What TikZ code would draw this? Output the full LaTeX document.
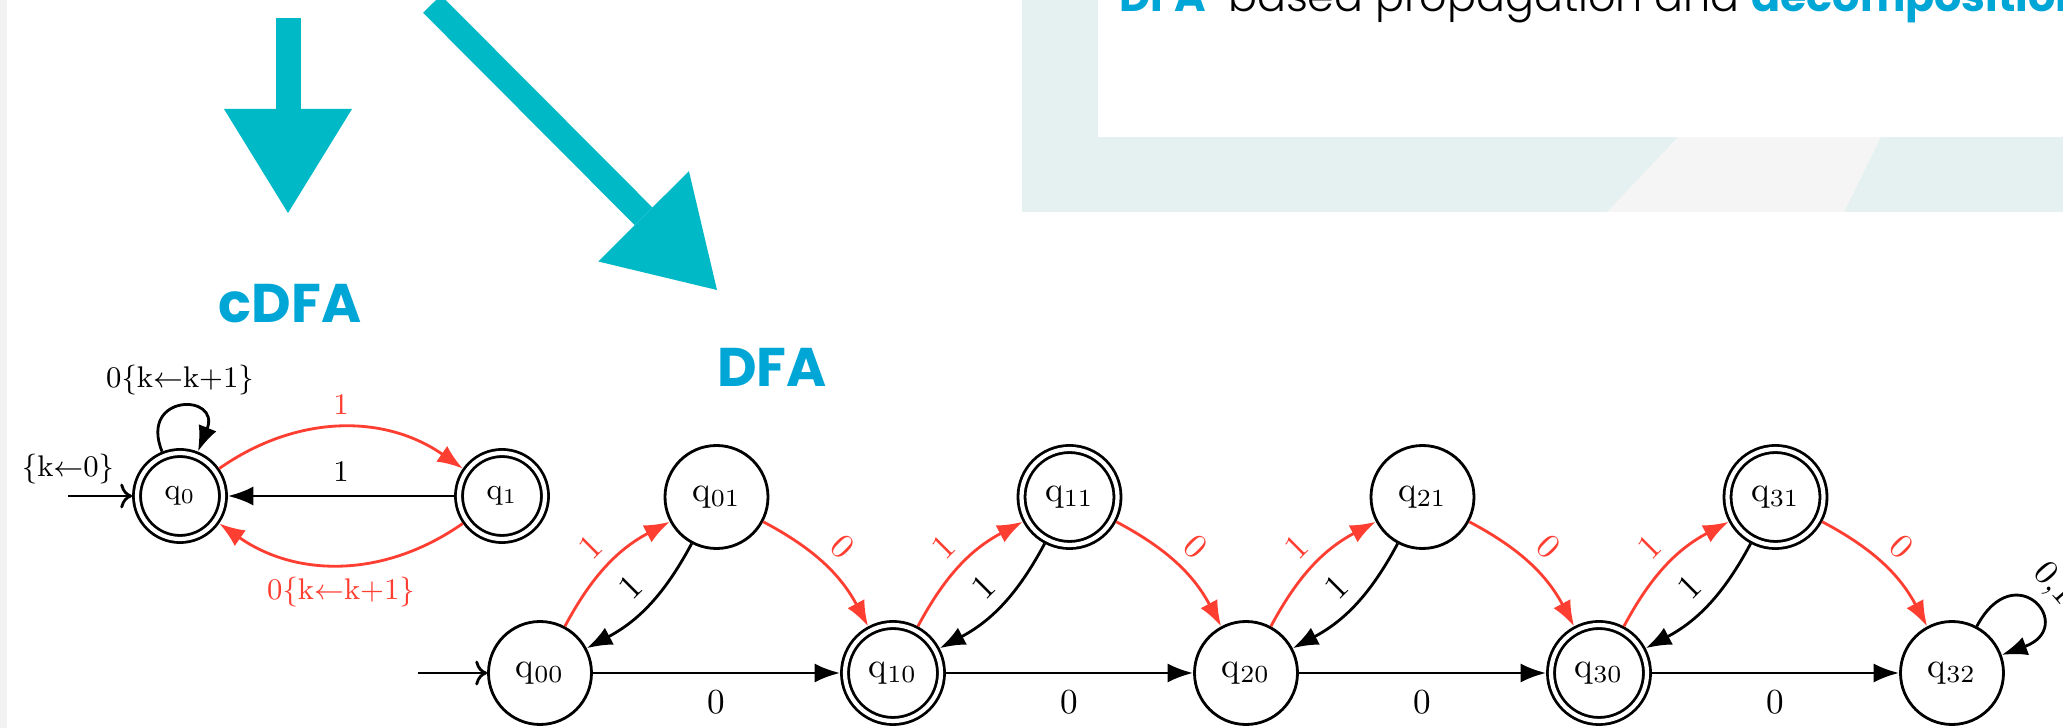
\documentclass[tikz,border=0pt]{standalone}
\usepackage{amsmath}
\usepackage{amssymb}
\usepackage{xcolor}
\usepackage{fontspec}
\usepackage{tikz}
\usetikzlibrary{arrows.meta}
\newfontfamily\slidefont{Poppins}
\newfontfamily\slidelight{Poppins Light}

\definecolor{arrowcyan}{RGB}{0,185,199}
\definecolor{titlecyan}{RGB}{0,166,214}
\definecolor{edgered}{RGB}{255,62,50}
\definecolor{panelgray}{RGB}{229,240,240}
\definecolor{stripegray}{RGB}{245,245,245}
\definecolor{sidegray}{RGB}{242,242,242}

\begin{document}
\begin{tikzpicture}[
		state/.style={circle, draw, thick, minimum size=1.03cm, inner sep=0pt},
		accept/.style={state, double, double distance=1.2pt, minimum size=0.96cm, outer sep=1.4pt},
		cstate/.style={accept, minimum size=0.86cm},
		ed/.style={thick, -{Latex[scale=1.1]}},
		redge/.style={draw=edgered, text=edgered},
		bigarrow/.style={arrowcyan, line width=0.25cm, -{Triangle[width=1.28cm, length=1.04cm, line width=0pt]}},
		heading/.style={font=\slidefont\bfseries\fontsize{15.5}{18}\selectfont, text=titlecyan}]
			% Vẽ nền
			\useasboundingbox (0,0) rectangle (20.63,-7.28);
			\clip (0,0) rectangle (20.63,-7.28);
			\fill[white] (0,0) rectangle (20.63,-7.28);
			\fill[sidegray] (0,0) rectangle (0.07,-7.28);
			\fill[panelgray] (10.22,0) rectangle (20.63,-2.12);
			\fill[stripegray] (16.78,-1.37) -- (18.81,-1.37) -- (18.44,-2.12) -- (16.07,-2.12) -- cycle;
			\fill[white] (10.98,0) rectangle (20.63,-1.37);
			\node[anchor=base west, inner sep=0pt, font=\slidelight\fontsize{12.2}{14}\selectfont] (toptext) at (11.19,-0.12)
				{\textcolor{titlecyan}{\slidefont\bfseries DFA}-based propagation and \textcolor{titlecyan}{\slidefont\bfseries decomposition}};
			% Vẽ mũi tên
			\coordinate (vtop) at (2.88,-0.18);
			\coordinate (vtip) at (2.88,-2.13);
			\coordinate (dtop) at (4.32,-0.04);
			\coordinate (dtip) at (7.17,-2.90);
			\draw[bigarrow] (vtop) -- (vtip);
			\draw[bigarrow] (dtop) -- (dtip);
			\node[heading] (cdfa) at (2.90,-3.04) {cDFA};
			\node[heading] (dfa) at (7.72,-3.67) {DFA};
			% Vẽ cDFA
			\begin{scope}[font=\fontsize{8.5}{10}\selectfont]
			\node[cstate] (q0) at (1.80,-4.96) {$\mathrm{q}_0$};
			\node[cstate] (q1) at (5.02,-4.96) {$\mathrm{q}_1$};
			\coordinate (cinit) at (0.68,-4.96);
			\draw[thick, ->] (cinit) -- (q0);
			\node[above] (cinitlbl) at (cinit) {\{k$\leftarrow$0\}};
			\draw[ed] (q0) to[out=112, in=68, looseness=4.5] node[above] (cloop) {0\{k$\leftarrow$k+1\}} (q0);
			\draw[ed, redge] (q0) to[bend left=35] node[auto] (cup) {1} (q1);
			\draw[ed] (q1) -- node[above=0.5pt] (cmid) {1} (q0);
			\draw[ed, redge] (q1) to[bend left=35] node[auto] (cdown) {0\{k$\leftarrow$k+1\}} (q0);
			\end{scope}
			% Vẽ DFA
			\node[state] (b0) at (5.40,-6.73) {$\mathrm{q}_{00}$};
			\node[state] (t0) at (7.165,-4.97) {$\mathrm{q}_{01}$};
			\node[accept] (b1) at (8.93,-6.73) {$\mathrm{q}_{10}$};
			\node[accept] (t1) at (10.695,-4.97) {$\mathrm{q}_{11}$};
			\node[state] (b2) at (12.46,-6.73) {$\mathrm{q}_{20}$};
			\node[state] (t2) at (14.225,-4.97) {$\mathrm{q}_{21}$};
			\node[accept] (b3) at (15.99,-6.73) {$\mathrm{q}_{30}$};
			\node[accept] (t3) at (17.755,-4.97) {$\mathrm{q}_{31}$};
			\node[state] (b4) at (19.52,-6.73) {$\mathrm{q}_{32}$};
			\coordinate (dinit) at (4.18,-6.73);
			\draw[thick, ->] (dinit) -- (b0);
			\foreach \i/\j in {0/1,1/2,2/3,3/4} {
				\draw[ed, redge] (b\i) to[bend left=17] node[auto, sloped] (ra\i) {1} (t\i);
				\draw[ed] (t\i) to[bend left=17] node[auto, sloped] (ba\i) {1} (b\i);
				\draw[ed, redge] (t\i) to[bend left=17] node[auto, sloped] (rb\i) {0} (b\j);
				\draw[ed] (b\i) -- node[below=1pt] (bb\i) {0} (b\j);
			}
			\draw[ed] (b4) to[out=62, in=20, looseness=5.5] node[sloped, above] (bloop) {0,1} (b4);
		\end{tikzpicture}
\end{document}
